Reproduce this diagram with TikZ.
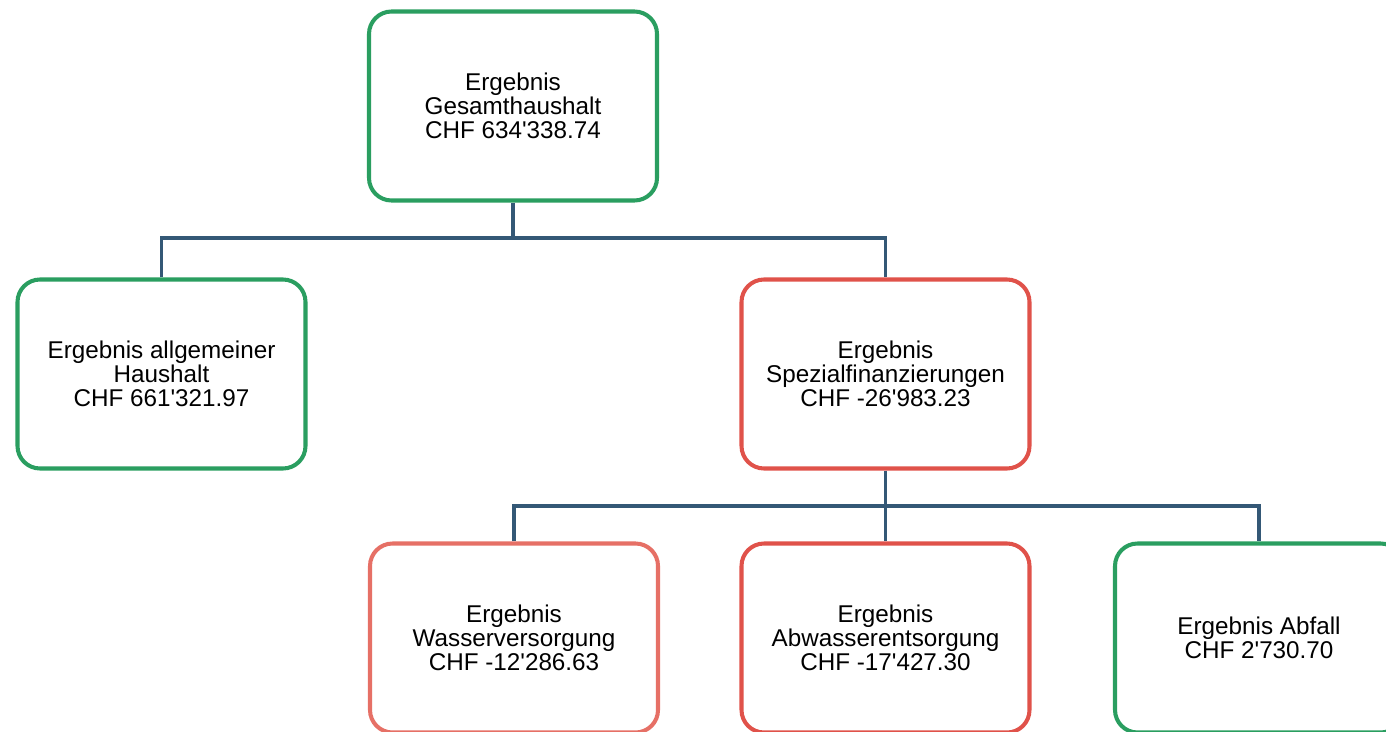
\documentclass[tikz,border=0pt]{standalone}
\usepackage{fontspec}
\setmainfont{Liberation Sans}
\definecolor{gruen}{RGB}{42,158,96}
\definecolor{rot}{RGB}{224,82,74}
\definecolor{hellrot}{RGB}{230,112,102}
\definecolor{linienfarbe}{RGB}{52,88,118}
\newcommand{\tq}{\textquotesingle}
\begin{document}
\begin{tikzpicture}[
    box/.style={draw, line width=2.3pt, rounded corners=0.45cm, fill=white,
      minimum width=5.76cm, minimum height=3.78cm, align=center,
      font=\fontsize{13.8}{13.8}\selectfont},
    plus/.style={box, draw=gruen},
    minus/.style={box, draw=rot},
    linie/.style={draw=linienfarbe, line width=2pt}
  ]
    \useasboundingbox (0,0) rectangle (27.72,-14.64);
    \clip (0,0) rectangle (27.72,-14.64);

    % Kaesten
    \node[plus] (gesamt) at (10.26,-2.12) {Ergebnis\\Gesamthaushalt\\CHF 634\tq338.74};
    \node[plus] (allg) at (3.23,-7.48) {Ergebnis allgemeiner\\Haushalt\\CHF 661\tq321.97};
    \node[minus] (spez) at (17.71,-7.48) {Ergebnis\\Spezialfinanzierungen\\CHF -26\tq983.23};
    \node[box, draw=hellrot] (wasser) at (10.28,-12.76) {Ergebnis\\Wasserversorgung\\CHF -12\tq286.63};
    \node[minus] (abwasser) at (17.71,-12.76) {Ergebnis\\Abwasserentsorgung\\CHF -17\tq427.30};
    \node[plus] (abfall) at (25.18,-12.76) {Ergebnis Abfall\\CHF 2\tq730.70};

    % Verbindungspunkte
    \coordinate (busA) at (10.26,-4.76);
    \coordinate (busB) at (17.71,-10.12);

    % Verbindungslinien
    \draw[linie] (gesamt.south) -- (busA);
    \draw[linie] (allg.north) |- (busA) -| (spez.north);
    \draw[linie] (spez.south) -- (abwasser.north);
    \draw[linie] (wasser.north) |- (busB) -| (abfall.north);
  \end{tikzpicture}
\end{document}
